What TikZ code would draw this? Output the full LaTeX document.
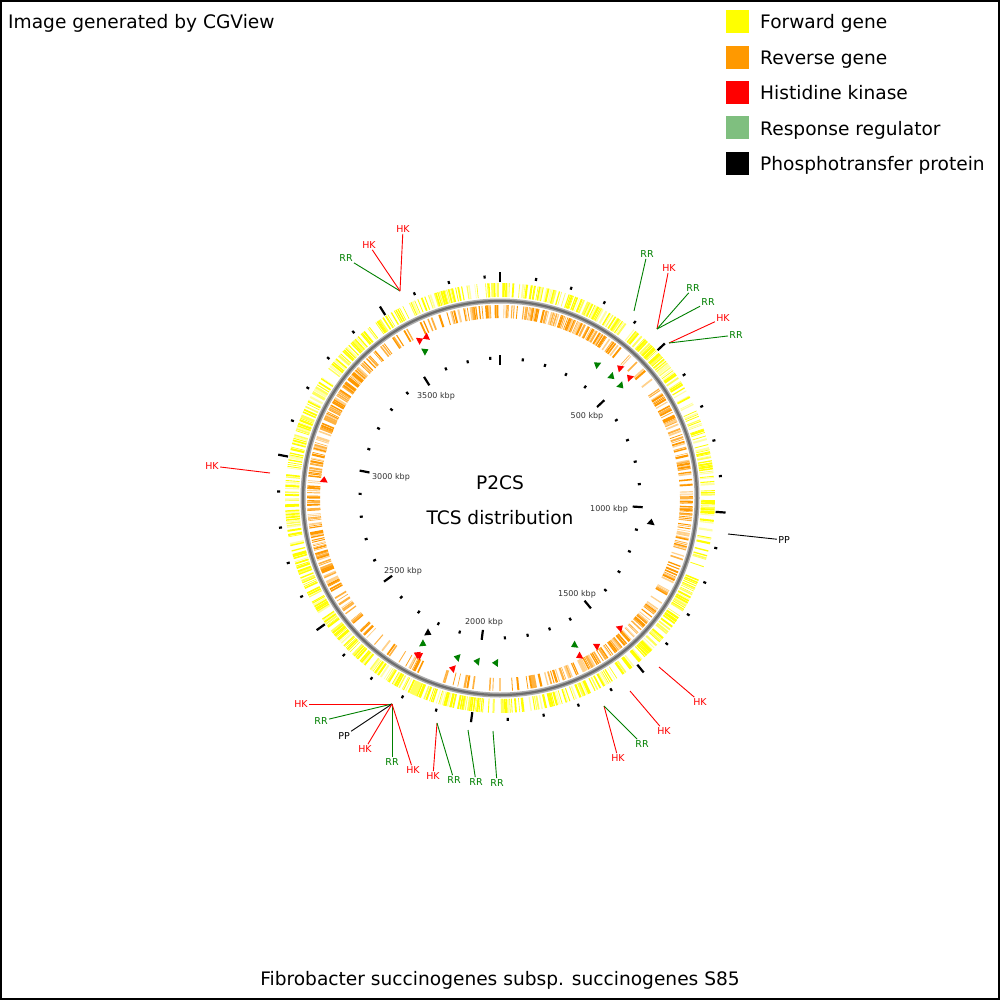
\documentclass[tikz,border=0pt]{standalone}
\usepackage{fontspec}
\setmainfont{DejaVu Sans}
\definecolor{fwd}{RGB}{255,255,0}
\definecolor{rev}{RGB}{255,153,0}
\definecolor{hkc}{RGB}{255,0,0}
\definecolor{rrc}{RGB}{0,128,0}
\definecolor{rrleg}{RGB}{127,191,127}
\definecolor{ringgray}{RGB}{128,128,128}
\newcommand{\tcsmark}[4]{%
 \pgfmathsetmacro{\tA}{#1-90}\pgfmathsetmacro{\tB}{#1-90+#4*343.77/#2}%
 \pgfmathsetmacro{\rI}{#2-4}\pgfmathsetmacro{\rO}{#2+4}%
 \fill[#3] (\tA:\rI) -- (\tA:\rO) -- (\tB:#2) -- cycle;}
\begin{document}
\begin{tikzpicture}[x=1pt,y=-1pt,
  big/.style={font=\fontsize{18.6}{22}\selectfont, inner sep=0pt},
  tag/.style={font=\fontsize{9.5}{11}\selectfont, inner sep=1.2pt},
  kbp/.style={font=\fontsize{8}{9}\selectfont, inner sep=0pt, text=black!80, anchor=base},
  legbox/.style={minimum size=23pt, inner sep=0pt, draw=none},
  lead/.style={line width=0.9pt}]
\useasboundingbox (0,0) rectangle (1000,1000);
\fill[white] (0,0) rectangle (1000,1000);
\draw[line width=2pt] (1,1) rectangle (999,999);

% header and footer
\node[big, anchor=base west] (gen) at (8,28.3) {Image generated by CGView};
\node[big, anchor=base] (org) at (500,985) {Fibrobacter succinogenes subsp. succinogenes S85};
\node[big, anchor=base] (title1) at (500,489.8) {P2CS};
\node[big, anchor=base] (title2) at (500,524.8) {TCS distribution};

% legend
\foreach \c/\t [count=\k] in {fwd/Forward gene, rev/Reverse gene, hkc/Histidine kinase, rrleg/Response regulator, black/Phosphotransfer protein}{
  \pgfmathsetmacro{\yy}{21.7+35.4*(\k-1)}
  \node[legbox, fill=\c] (leg\k) at (737.5,\yy) {};
  \node[big, anchor=base west] (legt\k) at (760,\yy+7.2) {\t};
}

\begin{scope}[shift={(500,498)}]
  \pgfmathsetseed{7}
  % forward genes
  \foreach \i in {1,...,720}{
    \pgfmathsetmacro{\g}{(\i+0.6*rnd)*0.5}
    \pgfmathsetmacro{\w}{0.5+1.7*rnd}
    \pgfmathtruncatemacro{\keep}{rnd<(((\g>95 && \g<112) || (\g>175 && \g<185)) ? 0.35 : 0.72)}
    \pgfmathsetmacro{\q}{rnd}
    \pgfmathtruncatemacro{\shade}{\q<0.2 ? 35 : (\q<0.4 ? 65 : 100)}
    \ifnum\keep=1 \draw[fwd!\shade!white, line width=\w pt] (\g-90:201) -- (\g-90:215);\fi
  }
  % reverse genes
  \foreach \i in {1,...,720}{
    \pgfmathsetmacro{\g}{(\i+0.6*rnd)*0.5}
    \pgfmathsetmacro{\w}{0.5+1.7*rnd}
    \pgfmathtruncatemacro{\keep}{rnd<(((\g>165 && \g<240) || (\g>40 && \g<55) || (\g>320 && \g<345)) ? 0.33 : 0.68)}
    \pgfmathsetmacro{\q}{rnd}
    \pgfmathtruncatemacro{\shade}{\q<0.25 ? 45 : (\q<0.55 ? 75 : 100)}
    \ifnum\keep=1 \draw[rev!\shade!white, line width=\w pt] (\g-90:180) -- (\g-90:193);\fi
  }
  % backbone
  \draw[ringgray!65!white, line width=5pt] (0,0) circle[radius=197];
  \draw[ringgray!85!black, line width=2.2pt] (0,0) circle[radius=197];
  % ticks
  \foreach \k in {0,...,41}{
    \pgfmathsetmacro{\g}{\k*9.3687}
    \pgfmathtruncatemacro{\mj}{mod(\k,5)==0}
    \ifdim\g pt<359pt
    \ifnum\mj=1
      \draw[line width=2.2pt] (\g-90:133) -- (\g-90:143);
      \draw[line width=2.2pt] (\g-90:216) -- (\g-90:226);
    \else
      \draw[line width=2.2pt] (\g-90:138.5) -- (\g-90:141.5);
      \draw[line width=2.2pt] (\g-90:220) -- (\g-90:223);
    \fi
    \fi
  }
  % TCS features
  \tcsmark{332.3}{177}{hkc}{1}
  \tcsmark{336.1}{177}{hkc}{-1}
  \tcsmark{332.2}{165}{rrc}{1}
  \tcsmark{36.8}{165}{rrc}{-1}
  \tcsmark{43.4}{177}{hkc}{-1}
  \tcsmark{41.8}{165}{rrc}{1}
  \tcsmark{47.8}{177}{hkc}{-1}
  \tcsmark{46.3}{165}{rrc}{1}
  \tcsmark{100}{153}{black}{-1}
  \tcsmark{275.1}{177}{hkc}{1}
  \tcsmark{138}{177}{hkc}{-1}
  \tcsmark{147.5}{177}{hkc}{-1}
  \tcsmark{152.6}{177}{hkc}{1}
  \tcsmark{152.4}{165}{rrc}{1}
  \tcsmark{180.7}{165}{rrc}{1}
  \tcsmark{187.2}{165}{rrc}{1}
  \tcsmark{194.2}{165}{rrc}{1}
  \tcsmark{194.8}{177}{hkc}{1}
  \tcsmark{208.9}{153}{black}{-1}
  \tcsmark{208.6}{165}{rrc}{-1}
  \tcsmark{206.4}{177}{hkc}{1}
  \tcsmark{207.2}{177}{hkc}{1}
\end{scope}

% kbp labels
\node[kbp] (k500) at (587,418.9) {500 kbp};
\node[kbp] (k1000) at (609,511.9) {1000 kbp};
\node[kbp] (k1500) at (577,596.9) {1500 kbp};
\node[kbp] (k2000) at (484,624.6) {2000 kbp};
\node[kbp] (k2500) at (403,573.9) {2500 kbp};
\node[kbp] (k3000) at (391,479.9) {3000 kbp};
\node[kbp] (k3500) at (436,398.9) {3500 kbp};

% label origins
\coordinate (oA) at (400,291);
\coordinate (oB1) at (634,311);
\coordinate (oB2) at (657,329);
\coordinate (oB3) at (669,343);
\coordinate (oC) at (270,473);
\coordinate (oD) at (728,534);
\coordinate (oE) at (392,704);
\coordinate (oG1) at (437,723);
\coordinate (oG2) at (468,730);
\coordinate (oG3) at (493,731);
\coordinate (oF1) at (659,667);
\coordinate (oF2) at (630,691);
\coordinate (oF3) at (604,706);

% labels
\node[tag, text=rrc] (a1) at (346,258) {RR};
\node[tag, text=hkc] (a2) at (369,245) {HK};
\node[tag, text=hkc] (a3) at (403,229) {HK};
\draw[lead, rrc] (oA) -- (a1);
\draw[lead, hkc] (oA) -- (a2);
\draw[lead, hkc] (oA) -- (a3);

\node[tag, text=rrc] (b1) at (647,254) {RR};
\node[tag, text=hkc] (b2) at (669,268) {HK};
\node[tag, text=rrc] (b3) at (693,288) {RR};
\node[tag, text=rrc] (b4) at (708,302) {RR};
\node[tag, text=hkc] (b5) at (723,318) {HK};
\node[tag, text=rrc] (b6) at (736,335) {RR};
\draw[lead, rrc] (oB1) -- (b1);
\draw[lead, hkc] (oB2) -- (b2);
\draw[lead, rrc] (oB2) -- (b3);
\draw[lead, rrc] (oB2) -- (b4);
\draw[lead, hkc] (oB3) -- (b5);
\draw[lead, rrc] (oB3) -- (b6);

\node[tag, text=hkc] (c1) at (212,466) {HK};
\draw[lead, hkc] (oC) -- (c1);

\node[tag, text=black] (d1) at (784,540) {PP};
\draw[lead, black] (oD) -- (d1);

\node[tag, text=hkc] (e1) at (301,704) {HK};
\node[tag, text=rrc] (e2) at (321,721) {RR};
\node[tag, text=black] (e3) at (344,736) {PP};
\node[tag, text=hkc] (e4) at (365,749) {HK};
\node[tag, text=rrc] (e5) at (392,762) {RR};
\node[tag, text=hkc] (e6) at (413,770) {HK};
\draw[lead, hkc] (oE) -- (e1);
\draw[lead, rrc] (oE) -- (e2);
\draw[lead, black] (oE) -- (e3);
\draw[lead, hkc] (oE) -- (e4);
\draw[lead, rrc] (oE) -- (e5);
\draw[lead, hkc] (oE) -- (e6);

\node[tag, text=hkc] (g1) at (433,776) {HK};
\node[tag, text=rrc] (g2) at (454,780) {RR};
\node[tag, text=rrc] (g3) at (476,782) {RR};
\node[tag, text=rrc] (g4) at (497,783) {RR};
\draw[lead, hkc] (oG1) -- (g1);
\draw[lead, rrc] (oG1) -- (g2);
\draw[lead, rrc] (oG2) -- (g3);
\draw[lead, rrc] (oG3) -- (g4);

\node[tag, text=hkc] (f1) at (700,702) {HK};
\node[tag, text=hkc] (f2) at (664,731) {HK};
\node[tag, text=hkc] (f3) at (618,758) {HK};
\node[tag, text=rrc] (f4) at (642,744) {RR};
\draw[lead, hkc] (oF1) -- (f1);
\draw[lead, hkc] (oF2) -- (f2);
\draw[lead, hkc] (oF3) -- (f3);
\draw[lead, rrc] (oF3) -- (f4);
\end{tikzpicture}
\end{document}
